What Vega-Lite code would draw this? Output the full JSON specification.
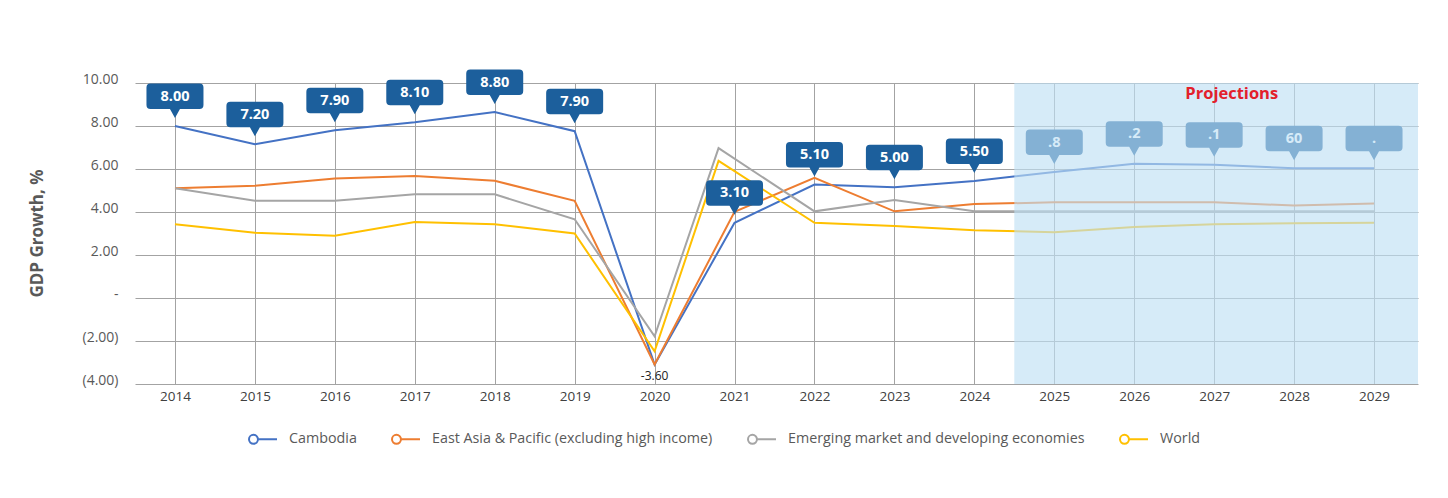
{
  "$schema": "https://vega.github.io/schema/vega-lite/v6.json",
  "width": 1283,
  "height": 301,
  "autosize": {"type": "none"},
  "padding": {"left": 135, "top": 83, "right": 30, "bottom": 114},
  "background": "white",
  "config": {"font": "Open Sans", "view": {"stroke": null}},
  "datasets": {
    "series": [
      {"year": 2014, "series": "Cambodia", "value": 8.0, "label": "8.00"},
      {"year": 2015, "series": "Cambodia", "value": 7.15, "label": "7.20"},
      {"year": 2016, "series": "Cambodia", "value": 7.8, "label": "7.90"},
      {"year": 2017, "series": "Cambodia", "value": 8.17, "label": "8.10"},
      {"year": 2018, "series": "Cambodia", "value": 8.65, "label": "8.80"},
      {"year": 2019, "series": "Cambodia", "value": 7.76, "label": "7.90"},
      {"year": 2020, "series": "Cambodia", "value": -3.1, "label": "-3.60"},
      {"year": 2021, "series": "Cambodia", "value": 3.5, "label": "3.10"},
      {"year": 2022, "series": "Cambodia", "value": 5.28, "label": "5.10"},
      {"year": 2023, "series": "Cambodia", "value": 5.15, "label": "5.00"},
      {"year": 2024, "series": "Cambodia", "value": 5.44, "label": "5.50"},
      {"year": 2025, "series": "Cambodia", "value": 5.86, "label": ".8"},
      {"year": 2026, "series": "Cambodia", "value": 6.24, "label": ".2"},
      {"year": 2027, "series": "Cambodia", "value": 6.2, "label": ".1"},
      {"year": 2028, "series": "Cambodia", "value": 6.03, "label": "60"},
      {"year": 2029, "series": "Cambodia", "value": 6.03, "label": "."},
      {"year": 2014, "series": "East Asia & Pacific (excluding high income)", "value": 5.1},
      {"year": 2015, "series": "East Asia & Pacific (excluding high income)", "value": 5.22},
      {"year": 2016, "series": "East Asia & Pacific (excluding high income)", "value": 5.56},
      {"year": 2017, "series": "East Asia & Pacific (excluding high income)", "value": 5.68},
      {"year": 2018, "series": "East Asia & Pacific (excluding high income)", "value": 5.45},
      {"year": 2019, "series": "East Asia & Pacific (excluding high income)", "value": 4.52},
      {"year": 2020, "series": "East Asia & Pacific (excluding high income)", "value": -3.09},
      {"year": 2021, "series": "East Asia & Pacific (excluding high income)", "value": 4.01},
      {"year": 2022, "series": "East Asia & Pacific (excluding high income)", "value": 5.59},
      {"year": 2023, "series": "East Asia & Pacific (excluding high income)", "value": 4.03},
      {"year": 2024, "series": "East Asia & Pacific (excluding high income)", "value": 4.37},
      {"year": 2025, "series": "East Asia & Pacific (excluding high income)", "value": 4.45},
      {"year": 2026, "series": "East Asia & Pacific (excluding high income)", "value": 4.45},
      {"year": 2027, "series": "East Asia & Pacific (excluding high income)", "value": 4.45},
      {"year": 2028, "series": "East Asia & Pacific (excluding high income)", "value": 4.3},
      {"year": 2029, "series": "East Asia & Pacific (excluding high income)", "value": 4.4},
      {"year": 2014, "series": "Emerging market and developing economies", "value": 5.1},
      {"year": 2015, "series": "Emerging market and developing economies", "value": 4.52},
      {"year": 2016, "series": "Emerging market and developing economies", "value": 4.52},
      {"year": 2017, "series": "Emerging market and developing economies", "value": 4.82},
      {"year": 2018, "series": "Emerging market and developing economies", "value": 4.82},
      {"year": 2019, "series": "Emerging market and developing economies", "value": 3.66},
      {"year": 2020, "series": "Emerging market and developing economies", "value": -1.78},
      {"year": 2020.8, "series": "Emerging market and developing economies", "value": 6.97},
      {"year": 2022, "series": "Emerging market and developing economies", "value": 4.03},
      {"year": 2023, "series": "Emerging market and developing economies", "value": 4.56},
      {"year": 2024, "series": "Emerging market and developing economies", "value": 4.03},
      {"year": 2025, "series": "Emerging market and developing economies", "value": 4.03},
      {"year": 2026, "series": "Emerging market and developing economies", "value": 4.03},
      {"year": 2027, "series": "Emerging market and developing economies", "value": 4.03},
      {"year": 2028, "series": "Emerging market and developing economies", "value": 4.03},
      {"year": 2029, "series": "Emerging market and developing economies", "value": 4.03},
      {"year": 2014, "series": "World", "value": 3.43},
      {"year": 2015, "series": "World", "value": 3.04},
      {"year": 2016, "series": "World", "value": 2.9},
      {"year": 2017, "series": "World", "value": 3.54},
      {"year": 2018, "series": "World", "value": 3.43},
      {"year": 2019, "series": "World", "value": 3.0},
      {"year": 2020, "series": "World", "value": -2.48},
      {"year": 2020.8, "series": "World", "value": 6.38},
      {"year": 2022, "series": "World", "value": 3.5},
      {"year": 2023, "series": "World", "value": 3.35},
      {"year": 2024, "series": "World", "value": 3.15},
      {"year": 2025, "series": "World", "value": 3.06},
      {"year": 2026, "series": "World", "value": 3.3},
      {"year": 2027, "series": "World", "value": 3.43},
      {"year": 2028, "series": "World", "value": 3.48},
      {"year": 2029, "series": "World", "value": 3.5}
    ],
    "shade": [{"start": 2024.5, "end": 2029.55}],
    "header": [{"year": 2027.22, "value": 9.47, "text": "Projections"}]
  },
  "layer": [
    {
      "data": {"name": "series"},
      "mark": {"type": "line", "strokeWidth": 2},
      "encoding": {
        "x": {
          "field": "year", "type": "quantitative",
          "scale": {"domain": [2013.5, 2029.55], "nice": false, "zero": false},
          "axis": {
            "title": null, "values": [2014, 2015, 2016, 2017, 2018, 2019, 2020, 2021, 2022, 2023, 2024, 2025, 2026, 2027, 2028, 2029],
            "format": "d", "grid": true, "gridColor": "#a3a3a3", "gridWidth": 1, "ticks": false, "domain": false,
            "labelFont": "Open Sans", "labelFontSize": 13.5, "labelColor": "#404040", "labelPadding": 5,
            "labelFlush": false, "labelOverlap": false
          }
        },
        "y": {
          "field": "value", "type": "quantitative",
          "scale": {"domain": [-4, 10], "nice": false, "zero": false},
          "axis": {
            "title": "GDP Growth, %", "values": [-4, -2, 0, 2, 4, 6, 8, 10],
            "labelExpr": "datum.value == 0 ? '-' : (datum.value < 0 ? '(' + format(-datum.value, '.2f') + ')' : format(datum.value, '.2f'))",
            "grid": true, "gridColor": "#a3a3a3", "gridWidth": 1, "ticks": false, "domain": false,
            "labelFont": "Open Sans", "labelFontSize": 14, "labelColor": "#595959", "labelPadding": 17,
            "labelBaseline": "alphabetic", "labelFlush": false, "labelOverlap": false,
            "titleFont": "Open Sans", "titleFontSize": 17, "titleFontWeight": "bold", "titleColor": "#595959",
            "titleX": -98, "titleY": 150, "titleAngle": -90, "titleAlign": "center", "titleBaseline": "middle"
          }
        },
        "color": {
          "field": "series", "type": "nominal",
          "scale": {
            "domain": ["Cambodia", "East Asia & Pacific (excluding high income)", "Emerging market and developing economies", "World"],
            "range": ["#4472c4", "#ed7d31", "#a5a5a5", "#ffc000"]
          },
          "legend": {
            "orient": "none", "legendX": 113, "legendY": 341, "direction": "horizontal", "title": null,
            "symbolType": "M-0.36,0 A0.32,0.32 0 1,1 -1,0 A0.32,0.32 0 1,1 -0.36,0 M-0.36,0 L1,0",
            "symbolSize": 784, "symbolStrokeWidth": 2, "symbolFillColor": "white",
            "labelFont": "Open Sans", "labelFontSize": 14.3, "labelColor": "#595959", "labelOffset": 11,
            "columnPadding": 31, "labelLimit": 400
          }
        }
      }
    },
    {
      "data": {"name": "series"},
      "transform": [{"filter": "datum.series === 'Cambodia' && datum.year !== 2020"}],
      "mark": {
        "type": "point", "filled": true, "color": "#1c5f9c", "opacity": 1, "strokeWidth": 0, "size": 4, "yOffset": -8,
        "shape": "M0,0 L-5,-9 L-24.5,-9 Q-28.5,-9 -28.5,-13 L-28.5,-30.5 Q-28.5,-34.5 -24.5,-34.5 L24.5,-34.5 Q28.5,-34.5 28.5,-30.5 L28.5,-13 Q28.5,-9 24.5,-9 L5,-9 Z"
      },
      "encoding": {
        "x": {"field": "year", "type": "quantitative"},
        "y": {"field": "value", "type": "quantitative"}
      }
    },
    {
      "data": {"name": "series"},
      "transform": [{"filter": "datum.series === 'Cambodia' && datum.year !== 2020"}],
      "mark": {"type": "text", "color": "white", "fontSize": 14.5, "fontWeight": "bold", "font": "Open Sans", "align": "center", "baseline": "middle", "dy": -29.5},
      "encoding": {
        "x": {"field": "year", "type": "quantitative"},
        "y": {"field": "value", "type": "quantitative"},
        "text": {"field": "label"}
      }
    },
    {
      "data": {"name": "shade"},
      "mark": {"type": "rect", "color": "#bfe0f4", "opacity": 0.64},
      "encoding": {
        "x": {"field": "start", "type": "quantitative"},
        "x2": {"field": "end"},
        "y": {"datum": -4, "type": "quantitative"},
        "y2": {"datum": 10}
      }
    },
    {
      "data": {"name": "header"},
      "mark": {"type": "text", "color": "#e3202b", "fontSize": 16.5, "fontWeight": "bold", "font": "Open Sans", "align": "center", "baseline": "middle"},
      "encoding": {
        "x": {"field": "year", "type": "quantitative"},
        "y": {"field": "value", "type": "quantitative"},
        "text": {"field": "text"}
      }
    },
    {
      "data": {"name": "series"},
      "transform": [{"filter": "datum.series === 'Cambodia' && datum.year === 2020"}],
      "mark": {"type": "text", "color": "#222222", "fontSize": 12, "font": "Open Sans", "align": "center", "baseline": "middle", "dy": 11},
      "encoding": {
        "x": {"field": "year", "type": "quantitative"},
        "y": {"field": "value", "type": "quantitative"},
        "text": {"field": "label"}
      }
    }
  ]
}
